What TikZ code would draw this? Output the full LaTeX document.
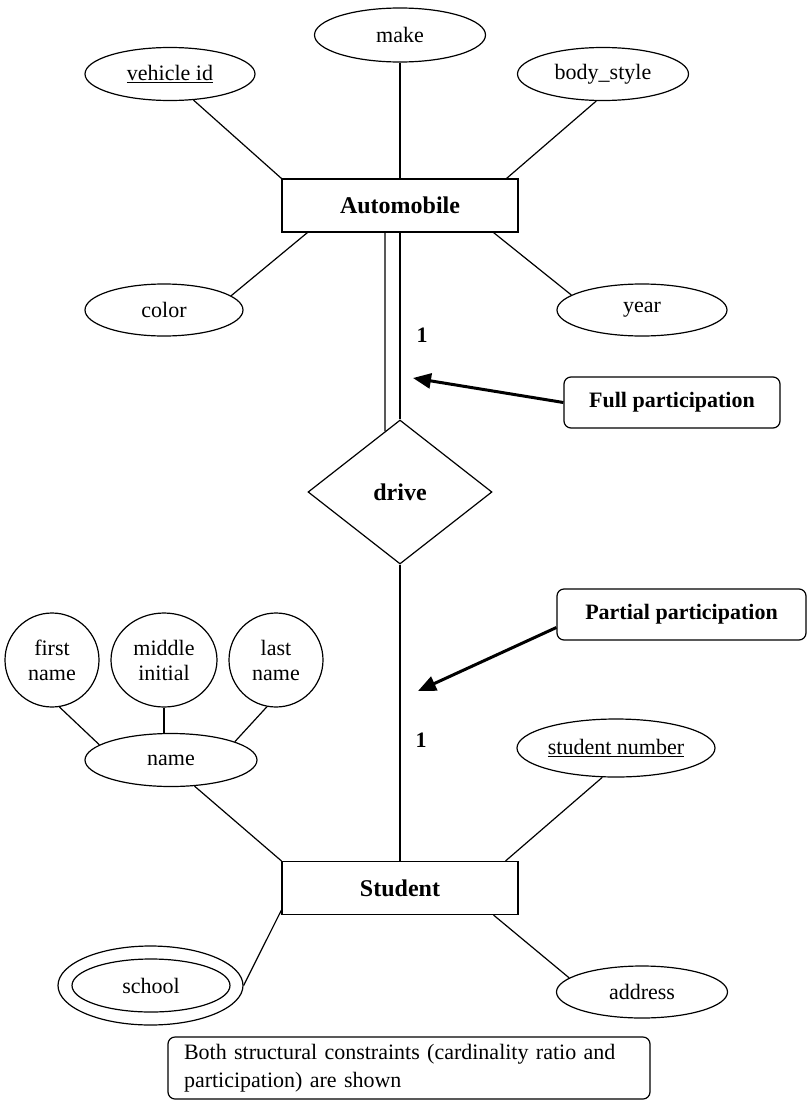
\documentclass[tikz,border=0pt]{standalone}
\usepackage{fontspec}
\setmainfont{Liberation Serif}
\usetikzlibrary{shapes.geometric,arrows.meta,calc}

\begin{document}
\begin{tikzpicture}[x=1pt,y=-1pt,
  line width=1.2pt,
  attr/.style={draw,ellipse,inner sep=0pt,align=center,
    font=\fontsize{22}{25}\selectfont},
  entity/.style={draw,rectangle,inner sep=0pt,minimum width=236pt,
    minimum height=53pt,font=\bfseries\fontsize{24}{28}\selectfont},
  rel/.style={draw,diamond,inner sep=0pt,minimum width=184pt,
    minimum height=144pt,font=\bfseries\fontsize{24}{28}\selectfont},
  callout/.style={draw,rounded corners=7pt,inner sep=0pt,minimum height=51pt,
    font=\bfseries\fontsize{22}{26}\selectfont},
  card/.style={font=\bfseries\fontsize{22}{26}\selectfont,inner sep=0pt},
  pointer/.style={line width=3pt,-{Triangle[length=18pt,width=15pt]}},
]
\useasboundingbox (0,0) rectangle (807,1100);

% Automobile entity and its attributes
\node[entity] (auto) at (400,205.5) {Automobile};
\node[attr,minimum width=170pt,minimum height=53pt] (vid) at (170,74) {\underline{vehicle id}};
\node[attr,minimum width=171pt,minimum height=54pt] (make) at (400,35) {make};
\node[attr,minimum width=171pt,minimum height=53pt] (body) at (603,74) {body\_style};
\node[attr,minimum width=158pt,minimum height=52pt] (color) at (164,310) {color};
\node[attr,minimum width=170pt,minimum height=52pt] (year) at (642,310) {year};

\draw (vid.-48) -- (auto.north west);
\draw (make.south) -- (auto.north);
\draw (body.-104) -- ([xshift=-12pt]auto.north east);
\draw (color.12) -- ([xshift=26pt]auto.south west);
\draw (year.168) -- ([xshift=-25pt]auto.south east);

% relationship
\node[rel] (drive) at (400,492) {drive};

% total participation: double line
\draw ([xshift=-15pt]auto.south) -- ($(drive.north)!0.326!(drive.north west)$);
\draw (auto.south) -- (drive.north);
\node[card] (c1) at (422,335) {1};

% Student entity
\node[entity] (stud) at (400,888) {Student};
\draw (drive.south) -- (stud.north);
\node[card] (c2) at (421,740) {1};

% composite attribute name
\node[attr,minimum width=172pt,minimum height=53pt] (name) at (171,760) {name};
\node[attr,minimum width=94pt,minimum height=94pt] (first) at (52,660) {first\\name};
\node[attr,minimum width=106pt,minimum height=94pt] (mid) at (164,660) {middle\\initial};
\node[attr,minimum width=94pt,minimum height=94pt] (last) at (276,660) {last\\name};
\draw (first.-81) -- (name.168);
\draw (mid.south) -- (mid.south |- name.north);
\draw (last.-101) -- (name.16);
\draw (name.-48) -- (stud.north west);

% other Student attributes
\node[attr,minimum width=198pt,minimum height=58pt] (stunum) at (616,748) {\underline{student number}};
\node[attr,minimum width=171pt,minimum height=52pt] (addr) at (642,992) {address};
\node[draw,ellipse,inner sep=0pt,minimum width=185pt,minimum height=79pt] (schoolout) at (150.5,985.5) {};
\node[attr,minimum width=158pt,minimum height=53pt] (school) at (151,985.5) {school};
\draw (stunum.-115) -- ([xshift=-13pt]stud.north east);
\draw (addr.169) -- ([xshift=-25pt]stud.south east);
\draw (schoolout.east) -- ([yshift=5pt]stud.south west);

% callouts
\node[callout,minimum width=216pt] (full) at (672,402.5) {Full participation};
\node[callout,minimum width=249pt] (partial) at (681.5,614.5) {Partial participation};
\coordinate (fulltip) at (413,378);
\coordinate (partialtip) at (418,691);
\draw[pointer] (full.west) -- (fulltip);
\draw[pointer] ([yshift=-13pt]partial.west) -- (partialtip);

% note
\node[draw,rounded corners=7pt,inner xsep=16pt,inner ysep=0pt,text width=450pt,
  minimum height=62pt,align=left,font=\fontsize{22}{28}\selectfont] (note) at (409,1068)
  {Both structural constraints (cardinality ratio and\\participation) are shown};

\end{tikzpicture}
\end{document}
